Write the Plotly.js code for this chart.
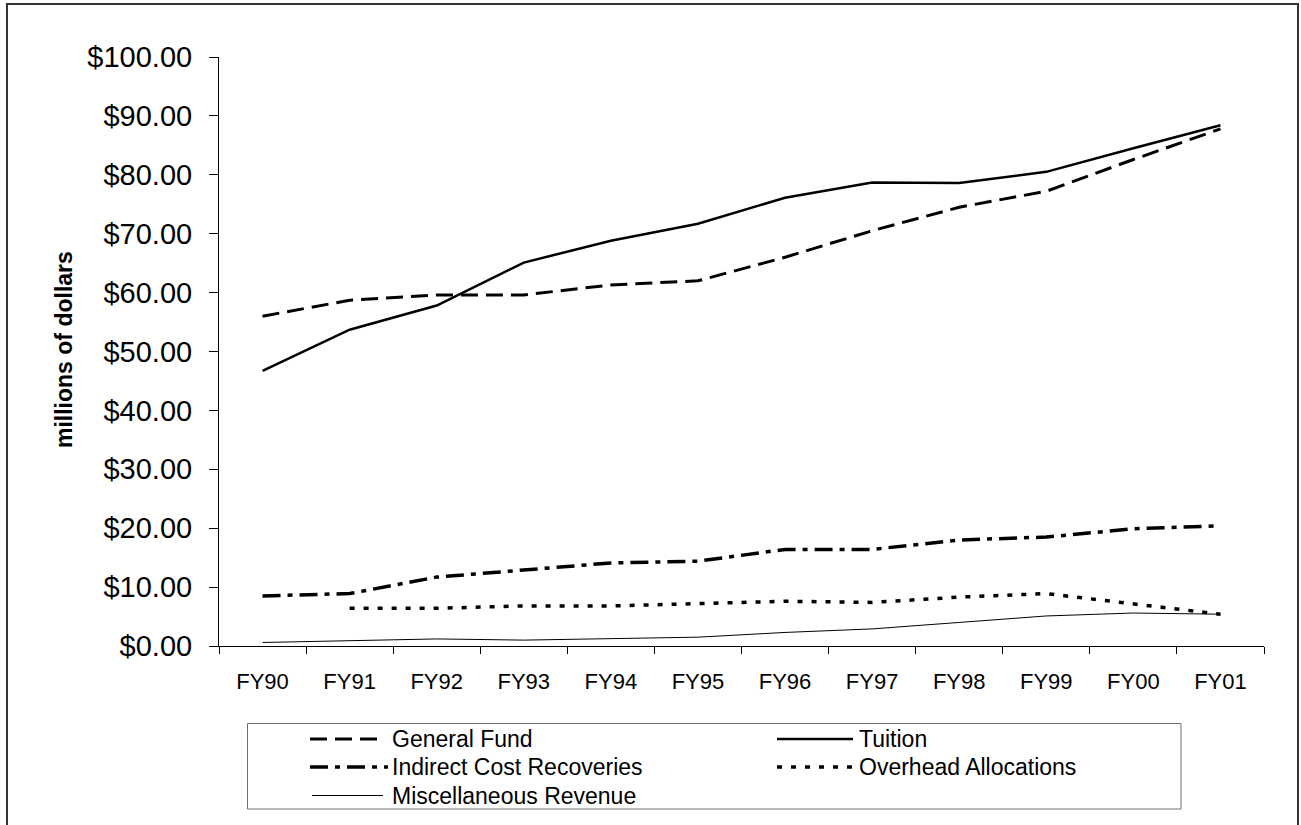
<!DOCTYPE html>
<html>
<head>
<meta charset="utf-8">
<script src="https://cdn.plot.ly/plotly-3.0.1.min.js"></script>
<style>
  html, body { margin: 0; padding: 0; background: #fff; overflow: hidden; }
  #chart { width: 1301px; height: 825px; }
</style>
</head>
<body>
<div id="chart"></div>
<script>
// ---- data (millions of dollars) ----
const years = ["FY90","FY91","FY92","FY93","FY94","FY95","FY96","FY97","FY98","FY99","FY00","FY01"];
const generalFund = [56.0, 58.7, 59.6, 59.6, 61.3, 62.0, 66.0, 70.5, 74.5, 77.2, 82.6, 87.8];
const tuition     = [46.7, 53.7, 57.8, 65.1, 68.8, 71.7, 76.1, 78.7, 78.6, 80.5, 84.5, 88.4];
const indirect    = [8.5, 8.9, 11.7, 12.9, 14.1, 14.4, 16.4, 16.4, 18.0, 18.5, 19.9, 20.4];
const overhead    = [null, 6.4, 6.4, 6.8, 6.8, 7.2, 7.6, 7.4, 8.3, 8.9, 7.1, 5.4];
const misc        = [0.6, 0.9, 1.2, 1.0, 1.3, 1.5, 2.3, 2.9, 4.0, 5.1, 5.6, 5.4];
const seriesNames = ["General Fund","Tuition","Indirect Cost Recoveries","Overhead Allocations","Miscellaneous Revenue"];

// ---- styles ----
const FONT = "Arial, 'Liberation Sans', sans-serif";
const styles = [
  {color:"#000", width:3,   dash:"17px,8px"},
  {color:"#000", width:2.5, dash:"solid"},
  {color:"#000", width:3.5, dash:"18px,7px,5px,7px"},
  {color:"#000", width:3.5, dash:"5px,9px"},
  {color:"#000", width:1,   dash:"solid"}
];
const values = [generalFund, tuition, indirect, overhead, misc];

const traces = values.map((v, i) => ({
  type: "scatter", mode: "lines", x: years, y: v, name: seriesNames[i],
  line: {color: styles[i].color, width: styles[i].width, dash: styles[i].dash},
  connectgaps: false, showlegend: false, hoverinfo: "x+y+name"
}));

// ---- layout geometry (pixels) ----
const W = 1301, H = 825;
const M = {l: 219, r: 37, t: 57, b: 179};
const PW = W - M.l - M.r, PH = H - M.t - M.b;
const px = p => (p - M.l) / PW;           // pixel x -> paper
const py = p => (H - M.b - p) / PH;       // pixel y -> paper

const shapes = [];
const annotations = [];

// outer chart border
shapes.push({type:"rect", xref:"paper", yref:"paper",
  x0: px(7), x1: px(1298), y0: py(835), y1: py(4),
  line:{color:"#333", width:2}, fillcolor:"rgba(0,0,0,0)", layer:"above"});

// legend box
shapes.push({type:"rect", xref:"paper", yref:"paper",
  x0: px(247.5), x1: px(1181), y0: py(809), y1: py(723.5),
  line:{color:"#707070", width:1}, fillcolor:"rgba(0,0,0,0)"});

const legendPos = [
  {row: 739,   sx0: 310, sx1: 383, tx: 390},
  {row: 739,   sx0: 777, sx1: 853, tx: 857},
  {row: 767,   sx0: 310, sx1: 388, tx: 390},
  {row: 767,   sx0: 777, sx1: 853, tx: 857},
  {row: 795.5, sx0: 312, sx1: 383, tx: 390}
];
legendPos.forEach((lp, i) => {
  shapes.push({type:"line", xref:"paper", yref:"paper",
    x0: px(lp.sx0), x1: px(lp.sx1), y0: py(lp.row), y1: py(lp.row),
    line:{color: styles[i].color, width: styles[i].width, dash: styles[i].dash}});
  annotations.push({xref:"paper", yref:"paper", x: px(lp.tx), y: py(lp.row),
    xanchor:"left", yanchor:"middle", showarrow:false, text: seriesNames[i],
    font:{family: FONT, size: 23, color:"#000"}});
});

// y axis title
annotations.push({xref:"paper", yref:"paper", x: px(64), y: py(350),
  xanchor:"center", yanchor:"middle", showarrow:false, textangle:-90,
  text:"<b>millions of dollars</b>", font:{family: FONT, size: 23, color:"#000"}});

const layout = {
  width: W, height: H,
  margin: M,
  paper_bgcolor:"#fff", plot_bgcolor:"#fff",
  showlegend:false,
  font:{family: FONT, color:"#000"},
  xaxis:{
    type:"category", range:[-0.5, 11.5], showgrid:false, zeroline:false,
    showline:true, linecolor:"#000", linewidth:1,
    ticks:"outside", tickson:"boundaries", ticklen:7, tickcolor:"#000", tickwidth:1,
    tickfont:{family: FONT, size:22, color:"#000"},
    ticklabelstandoff: 16
  },
  yaxis:{
    range:[0,100], dtick:10, tick0:0, showgrid:false, zeroline:false,
    showline:true, linecolor:"#000", linewidth:1,
    ticks:"outside", ticklen:9, tickcolor:"#000", tickwidth:1,
    tickprefix:"$", tickformat:".2f",
    tickfont:{family: FONT, size:29, color:"#000"},
    ticklabelstandoff: 11
  },
  shapes: shapes,
  annotations: annotations
};

Plotly.newPlot("chart", traces, layout, {staticPlot:true, displayModeBar:false});
</script>
</body>
</html>
